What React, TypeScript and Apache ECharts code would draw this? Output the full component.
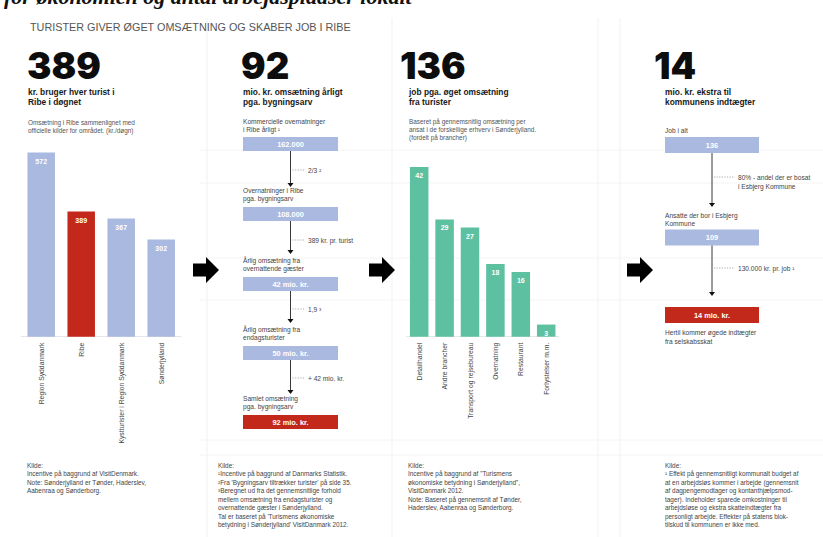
import React, { useEffect, useRef } from "react";
import * as echarts from "echarts";

// ---------- data ----------
const pageTitle = "for økonomien og antal arbejdspladser lokalt";
const infoTitle = "TURISTER GIVER ØGET OMSÆTNING OG SKABER JOB I RIBE";

const headlineNumbers = ["389", "92", "136", "14"];
const headlineTexts = [
  "kr. bruger hver turist i\nRibe i døgnet",
  "mio. kr. omsætning årligt\npga. bygningsarv",
  "job pga. øget omsætning\nfra turister",
  "mio. kr. ekstra til\nkommunens indtægter",
];
const introNotes = [
  "Omsætning i Ribe sammenlignet med\nofficielle kilder for området. (kr./døgn)",
  "Baseret på gennemsnitlig omsætning per\nansat i de forskellige erhverv i Sønderjylland.\n(fordelt på brancher)",
];

const spendCategories = ["Region Syddanmark", "Ribe", "Kystturister i Region Syddanmark", "Sønderjylland"];
const spendValues = [572, 389, 367, 302];
const spendHighlight = [false, true, false, false];

const jobCategories = ["Detailhandel", "Andre brancher", "Transport og rejsebureau", "Overnatning", "Restaurant", "Forlystelser m.m."];
const jobValues = [42, 29, 27, 18, 16, 3];

const heritageLabels = [
  "Kommercielle overnatninger\ni Ribe årligt ¹",
  "Overnatninger i Ribe\npga. bygningsarv",
  "Årlig omsætning fra\novernattende gæster",
  "Årlig omsætning fra\nendagsturister",
  "Samlet omsætning\npga. bygningsarv",
];
const heritageValues = ["162.000", "108.000", "42 mio. kr.", "50 mio. kr.", "92 mio. kr."];
const heritageFactors = ["2/3 ²", "389 kr. pr. turist", "1,9 ³", "+ 42 mio. kr."];

const municipalLabels = ["Job i alt", "Ansatte der bor i Esbjerg\nKommune", ""];
const municipalValues = ["136", "109", "14 mio. kr."];
const municipalFactors = ["80% - andel der er bosat\ni Esbjerg Kommune", "130.000 kr. pr. job ¹"];
const municipalAfter = "Hertil kommer øgede indtægter\nfra selskabsskat";

const sources = [
  "Kilde:\nIncentive på baggrund af VisitDenmark.\nNote: Sønderjylland er Tønder, Haderslev,\nAabenraa og Sønderborg.",
  "Kilde:\n¹Incentive på baggrund af Danmarks Statistik.\n²Fra 'Bygningsarv tiltrækker turister' på side 35.\n³Beregnet ud fra det gennemsnitlige forhold\nmellem omsætning fra endagsturister og\novernattende gæster i Sønderjylland.\nTal er baseret på 'Turismens økonomiske\nbetydning i Sønderjylland' VisitDanmark 2012.",
  "Kilde:\nIncentive på baggrund af \"Turismens\nøkonomiske betydning i Sønderjylland\",\nVisitDanmark 2012.\nNote: Baseret på gennemsnit af Tønder,\nHaderslev, Aabenraa og Sønderborg.",
  "Kilde:\n¹ Effekt på gennemsnitligt kommunalt budget af\nat en arbejdsløs kommer i arbejde (gennemsnit\naf dagpengemodtager og kontanthjælpsmod-\ntager). Indeholder sparede omkostninger til\narbejdsløse og ekstra skatteindtægter fra\npersonligt arbejde. Effekter på statens blok-\ntilskud til kommunen er ikke med.",
];

// ---------- styles ----------
const FONT = "'Liberation Sans', Arial, sans-serif";
const BIG = "Inter, 'Liberation Sans', Arial, sans-serif";
const BLUE = "#aab9e0";
const RED = "#c3291b";
const TEAL = "#5dc0a0";

function txt(x: number, y: number, text: string, size: number, extra: any = {}) {
  return {
    type: "text",
    x,
    y,
    silent: true,
    style: {
      text,
      fontSize: size,
      fontFamily: FONT,
      fill: "#333",
      verticalAlign: "top",
      align: "left",
      lineHeight: size * 1.2,
      ...extra,
    },
  };
}

function flow(
  g: any[],
  bx: number,
  bw: number,
  bh: number,
  labels: string[],
  labelTops: number[],
  values: string[],
  boxTops: number[],
  factors: string[],
  factorYs: number[],
  arrowEnds: number[],
  labelX: number,
  factorX: number
) {
  const cx = bx + bw / 2;
  values.forEach((v, i) => {
    if (labels[i]) g.push(txt(labelX, labelTops[i], labels[i], 6.6, { fill: "#444", lineHeight: 8.2 }));
    const last = i === values.length - 1;
    g.push({ type: "rect", silent: true, shape: { x: bx, y: boxTops[i], width: bw, height: bh }, style: { fill: last ? RED : BLUE } });
    g.push(
      txt(cx, boxTops[i] + bh / 2, v, 7.4, { fill: "#fff", fontWeight: "bold", align: "center", verticalAlign: "middle" })
    );
    if (!last) {
      const y1 = boxTops[i] + bh;
      const y2 = arrowEnds[i];
      g.push({ type: "line", silent: true, shape: { x1: cx, y1, x2: cx, y2: y2 - 3 }, style: { stroke: "#222", lineWidth: 0.9 } });
      g.push({ type: "polygon", silent: true, shape: { points: [[cx - 3, y2 - 4], [cx + 3, y2 - 4], [cx, y2]] }, style: { fill: "#111" } });
      g.push({
        type: "line",
        silent: true,
        shape: { x1: cx + 2, y1: factorYs[i], x2: factorX - 3, y2: factorYs[i] },
        style: { stroke: "#888", lineWidth: 0.7, lineDash: [1.2, 1.4] },
      });
      g.push(txt(factorX, factorYs[i] - 4, factors[i], 6.6, { fill: "#444", lineHeight: 8.8 }));
    }
  });
}

function bigArrow(x: number, y: number) {
  return {
    type: "polygon",
    silent: true,
    shape: {
      points: [
        [x, y - 6.5],
        [x + 13, y - 6.5],
        [x + 13, y - 13],
        [x + 26, y],
        [x + 13, y + 13],
        [x + 13, y + 6.5],
        [x, y + 6.5],
      ],
    },
    style: { fill: "#000" },
  };
}

function buildGraphics() {
  const g: any[] = [];
  // faint background grid texture
  [207, 392, 598, 620].forEach((x) =>
    g.push({ type: "line", silent: true, shape: { x1: x, y1: 18, x2: x, y2: 537 }, style: { stroke: "#eeeeee", lineWidth: 0.8 } })
  );
  [150, 183, 258, 300, 440, 455].forEach((y) =>
    g.push({ type: "line", silent: true, shape: { x1: 200, y1: y, x2: 823, y2: y }, style: { stroke: "#f1f1f1", lineWidth: 0.8 } })
  );

  // page title, cut off by the top edge as in the reference
  g.push(
    txt(4, -4, pageTitle, 22, {
      fontFamily: "'Liberation Serif', 'DejaVu Serif', serif",
      fontStyle: "italic",
      fontWeight: "bold",
      fill: "#111",
      verticalAlign: "middle",
    })
  );
  g.push(txt(30, 21, infoTitle, 10.8, { fill: "#555" }));

  const bigX = [27, 241, 400, 654];
  const subX = [28, 243, 409, 665];
  headlineNumbers.forEach((n, i) => {
    g.push(txt(bigX[i], 65.5, n, 36.5, { fontFamily: BIG, fontWeight: 900, fill: "#0d0d0d", lineHeight: 30, verticalAlign: "middle" }));
    g.push(txt(subX[i], 87.5, headlineTexts[i], 8.4, { fontWeight: "bold", fill: "#1a1a1a", lineHeight: 9.6 }));
  });
  g.push(txt(28, 119, introNotes[0], 6.4, { fill: "#555", lineHeight: 7.7 }));
  g.push(txt(409, 118, introNotes[1], 6.4, { fill: "#555", lineHeight: 7.6 }));

  g.push(bigArrow(193, 270));
  g.push(bigArrow(369, 270));
  g.push(bigArrow(627, 270));

  flow(
    g, 243, 95, 14,
    heritageLabels, [117.5, 186, 256, 325, 394],
    heritageValues, [137, 207, 277, 346, 415],
    heritageFactors, [170, 240, 309, 378],
    [187, 254, 323, 394],
    243, 308
  );

  flow(
    g, 665, 94, 16,
    municipalLabels, [126, 211, 0],
    municipalValues, [137, 229.5, 307],
    municipalFactors, [177, 268],
    [207, 296],
    665, 738
  );
  g.push(txt(665, 327.5, municipalAfter, 6.6, { fill: "#444", lineHeight: 9.2 }));

  const srcX = [27, 218, 408, 665];
  sources.forEach((s, i) => g.push(txt(srcX[i], 461, s, 6.4, { fill: "#444", lineHeight: 8.5 })));
  return g;
}

export default function App() {
  const ref = useRef<HTMLDivElement>(null);
  useEffect(() => {
    if (!ref.current) return;
    const chart = echarts.init(ref.current, undefined, { renderer: "svg" });
    const axisLabel = { rotate: 90, fontSize: 6.8, color: "#444", margin: 6, interval: 0, fontFamily: FONT };
    const barLabel = {
      show: true,
      position: "insideTop",
      distance: 5,
      color: "#fff",
      fontSize: 7,
      fontWeight: "bold",
      fontFamily: FONT,
    };
    chart.setOption({
      animation: false,
      backgroundColor: "#fff",
      grid: [
        { left: 21.2, width: 160, top: 143.6, height: 193.1 },
        { left: 406.5, width: 152.4, top: 154.8, height: 181.9 },
      ],
      xAxis: [
        {
          type: "category", gridIndex: 0, data: spendCategories,
          axisLine: { lineStyle: { color: "#e6e6e6" } }, axisTick: { show: false }, axisLabel,
        },
        {
          type: "category", gridIndex: 1, data: jobCategories,
          axisLine: { lineStyle: { color: "#e6e6e6" } }, axisTick: { show: false }, axisLabel,
        },
      ],
      yAxis: [
        { type: "value", gridIndex: 0, min: 0, max: 600, show: false },
        { type: "value", gridIndex: 1, min: 0, max: 45, show: false },
      ],
      series: [
        {
          type: "bar", xAxisIndex: 0, yAxisIndex: 0, barWidth: 27.5,
          data: spendValues.map((v, i) => ({ value: v, itemStyle: { color: spendHighlight[i] ? RED : BLUE } })),
          label: barLabel,
        },
        {
          type: "bar", xAxisIndex: 1, yAxisIndex: 1, barWidth: 18.5,
          data: jobValues, itemStyle: { color: TEAL }, label: barLabel,
        },
      ],
      graphic: buildGraphics(),
    });
    return () => chart.dispose();
  }, []);
  return <div ref={ref} style={{ position: "absolute", left: 0, top: 0, width: 823, height: 537 }} />;
}
